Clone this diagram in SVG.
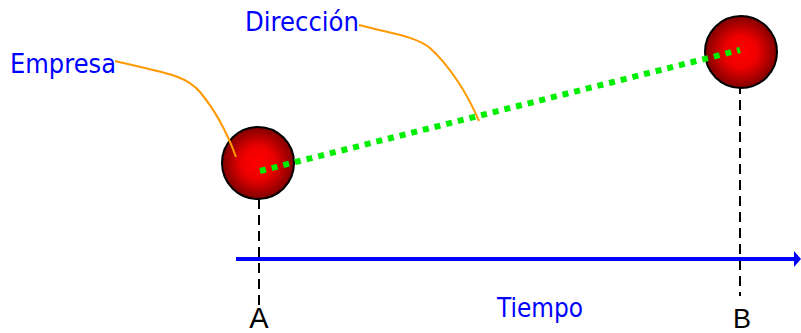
<svg xmlns="http://www.w3.org/2000/svg" width="801" height="333" viewBox="0 0 801 333">
<style>
.lbl{font-family:"Comic Sans MS","DejaVu Sans","Liberation Sans",sans-serif;font-size:26px;fill:#0000ff}
.pt{font-family:"Liberation Sans",Arial,sans-serif;fill:#000}
.lead{fill:none;stroke:#ff9900;stroke-width:2}
.vdash{stroke:#000;stroke-width:2;stroke-dasharray:10 6;fill:none}
.ball{fill:url(#rg);stroke:#000;stroke-width:2}
</style>
<defs>
<radialGradient id="rg" cx="0.5" cy="0.5" r="0.5">
<stop offset="0" stop-color="#ff0000"/>
<stop offset="0.45" stop-color="#ee0000"/>
<stop offset="1" stop-color="#800000"/>
</radialGradient>
</defs>
<g id="connectors">
<line class="vdash" x1="259" y1="199" x2="259" y2="305"/>
<line class="vdash" x1="740" y1="84" x2="740" y2="296"/>
<line x1="236" y1="259" x2="796" y2="259" stroke="#0000ff" stroke-width="4"/>
<polygon points="794,251 801,259 794,267" fill="#0000ff"/>
</g>
<g id="empresa-ball"><circle class="ball" cx="258" cy="163" r="36"/></g>
<g id="b-ball"><circle class="ball" cx="741" cy="52" r="36"/></g>
<g id="direction">
<line x1="260" y1="171" x2="740" y2="50" stroke="#00ee00" stroke-width="6" stroke-dasharray="6 6"/>
</g>
<g id="leaders">
<path class="lead" d="M115,61 C160,72 185,74 200,92 C215,110 228,135 236,157"/>
<path class="lead" d="M359,25 C392,34 415,36 430,48 C450,66 468,95 479,121"/>
</g>
<g id="label-empresa"><text class="lbl" x="10" y="73" textLength="106" lengthAdjust="spacingAndGlyphs">Empresa</text></g>
<g id="label-direccion"><text class="lbl" x="245" y="31" textLength="114" lengthAdjust="spacingAndGlyphs">Dirección</text></g>
<g id="label-tiempo"><text class="lbl" x="497" y="317" font-size="25" textLength="86" lengthAdjust="spacingAndGlyphs">Tiempo</text></g>
<g id="label-a"><text class="pt" x="259" y="328" font-size="29" text-anchor="middle">A</text></g>
<g id="label-b"><text class="pt" x="742" y="328" font-size="27" text-anchor="middle">B</text></g>
</svg>
